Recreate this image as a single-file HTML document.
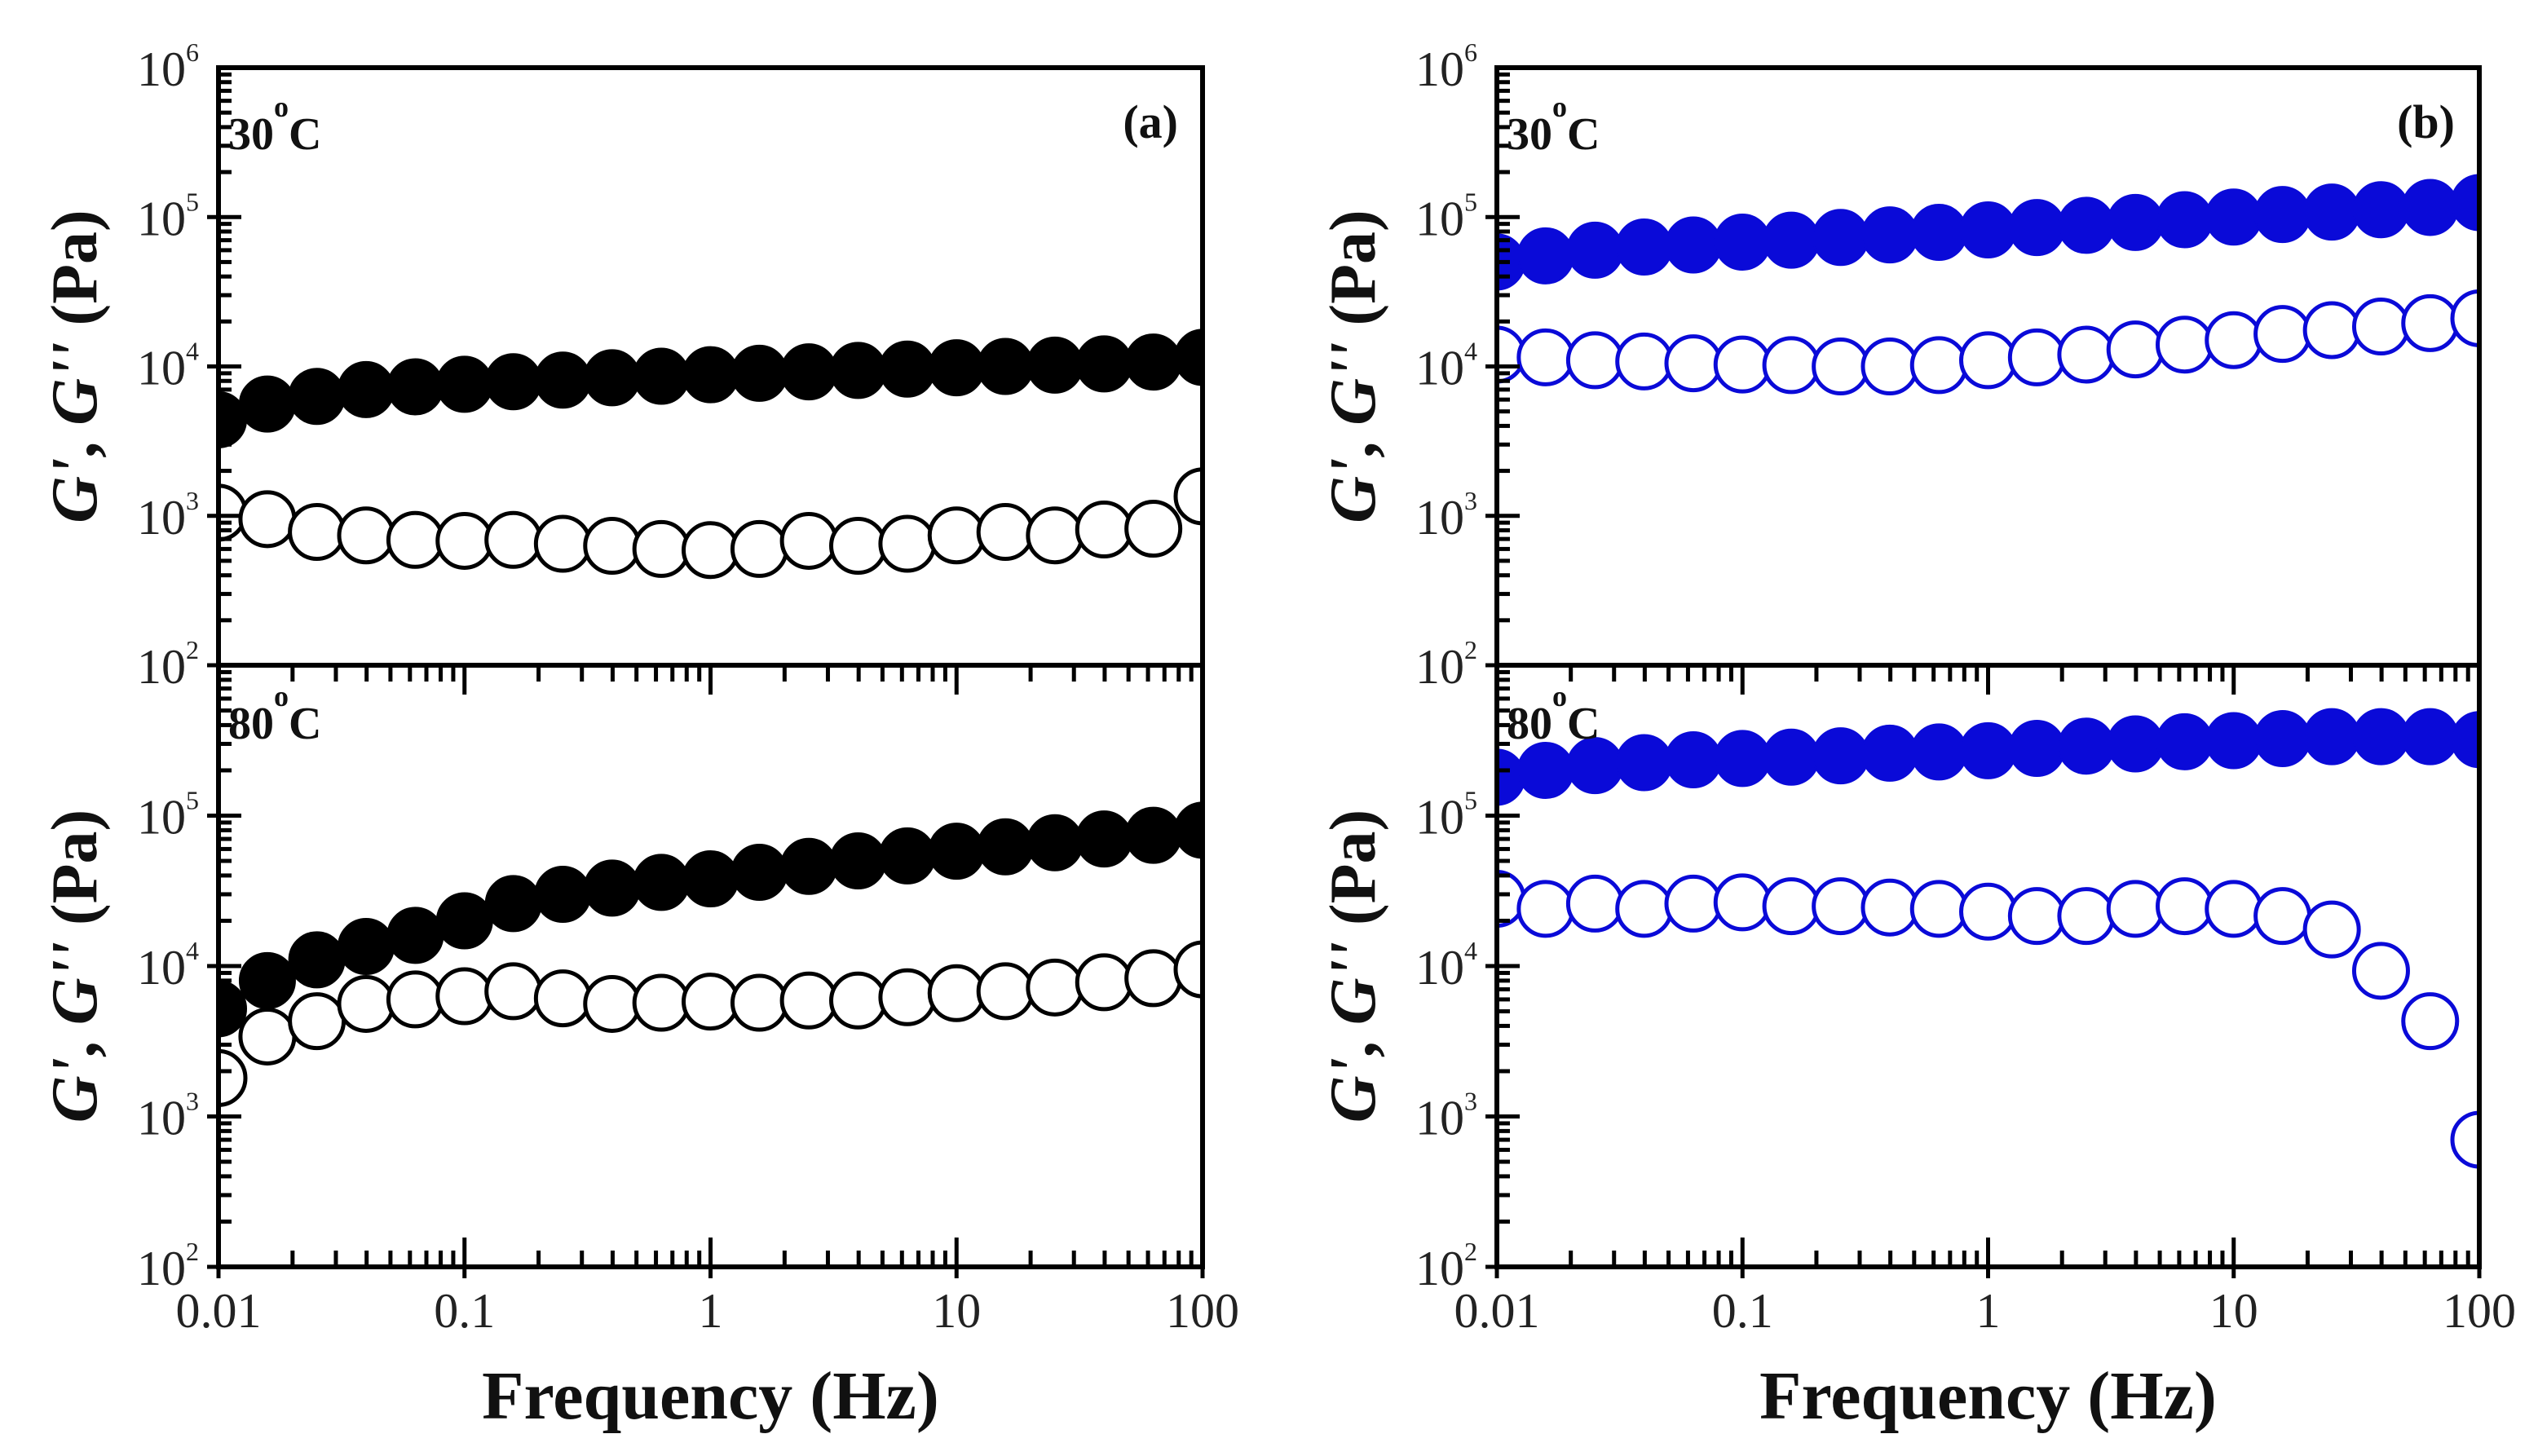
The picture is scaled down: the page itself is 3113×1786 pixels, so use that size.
<!DOCTYPE html>
<html><head><meta charset="utf-8"><style>
html,body{margin:0;padding:0;background:#fff;}
svg{display:block;font-family:"Liberation Serif",serif;}
</style></head><body>
<svg id="chart" width="3113" height="1786" viewBox="0 0 3113 1786" xmlns="http://www.w3.org/2000/svg"></svg>
<script>
// Frequency points (Hz)
const freqs = [0.01,0.0158,0.0251,0.0398,0.0631,0.1,0.158,0.251,0.398,0.631,1,1.58,2.51,3.98,6.31,10,15.8,25.1,39.8,63.1,100];
const xTicks = ["0.01","0.1","1","10","100"];
const aTopGp  = [4400,5600,6300,7000,7300,7600,7900,8100,8400,8600,8800,9000,9200,9400,9600,9800,10000,10200,10400,10700,11500];
const aTopGpp = [1050,950,780,740,690,680,690,650,630,600,590,600,680,630,650,740,780,740,810,820,1350];
const aBotGp  = [5200,8000,11000,13500,16000,20000,26000,30000,33000,36000,38000,42000,46000,50000,54000,58000,62000,66000,70000,74000,80000];
const aBotGpp = [1800,3400,4300,5600,6000,6300,6800,6100,5600,5700,5800,5700,5900,5900,6200,6600,6800,7200,7800,8300,9500];
const bTopGp  = [50000,55000,60000,63000,65000,68000,70000,73000,76000,79000,82000,85000,88000,92000,96000,100000,104000,108000,112000,116000,125000];
const bTopGpp = [12000,11500,11000,10800,10500,10300,10200,10000,10000,10200,11000,11500,12000,13000,14000,15000,16500,17500,18500,19500,21000];
const bBotGp  = [180000,200000,215000,225000,235000,240000,245000,250000,260000,265000,270000,280000,290000,300000,310000,315000,325000,335000,335000,335000,320000];
const bBotGpp = [28000,24000,26000,24000,26000,26500,25000,25000,24500,24000,23000,21500,21500,24000,25000,24000,21500,17500,9300,4300,700];

const NS="http://www.w3.org/2000/svg";
const svg=document.getElementById('chart');
function mk(tag,attrs,parent){const e=document.createElementNS(NS,tag);for(const k in attrs)e.setAttribute(k,attrs[k]);(parent||svg).appendChild(e);return e;}

const Y0=83, YM=816, YB=1554;
function drawPanel(px0,px1,label,color,topGp,topGpp,botGp,botGpp){
  const g=mk('g',{});
  
  
  const xs=f=>px0+(Math.log10(f)+2)/4*(px1-px0);
  const panels=[{t:Y0,b:YM,gp:topGp,gpp:topGpp,temp:'30'},{t:YM,b:YB,gp:botGp,gpp:botGpp,temp:'80'}];
  panels.forEach((p,pi)=>{
    const ys=v=>p.b-(Math.log10(v)-2)/4*(p.b-p.t);
    const cp=mk('clipPath',{id:'c'+label+pi},g);
    mk('rect',{x:px0,y:p.t,width:px1-px0,height:p.b-p.t},cp);
    const sg=mk('g',{'clip-path':'url(#c'+label+pi+')'},g);
    p.gpp.forEach((v,i)=>{
      const c=mk('circle',{cx:xs(freqs[i]),cy:ys(v),r:33,fill:'#fff',stroke:color,'stroke-width':5},sg);
      
      
    });
    p.gp.forEach((v,i)=>{
      const c=mk('circle',{cx:xs(freqs[i]),cy:ys(v),r:34,fill:color,stroke:color,'stroke-width':2},sg);
      
      
    });
    for(let d=2;d<6;d++){
      for(let m=1;m<10;m++){
        const y=ys(m*Math.pow(10,d));
        const len=m===1?28:16;
        mk('line',{x1:px0,x2:px0+len,y1:y,y2:y,stroke:'#000','stroke-width':5},g);
        if(m===1) mk('line',{x1:px0-14,x2:px0,y1:y,y2:y,stroke:'#000','stroke-width':5},g);
      }
    }
    const exps=pi===0?[6,5,4,3,2]:[5,4,3,2];
    exps.forEach(e=>{
      const t=mk('text',{x:px0-24,y:ys(Math.pow(10,e))+22,'text-anchor':'end','font-size':60,fill:'#222'},g);
      
      
      t.textContent='10';
      const s=mk('tspan',{dy:-30,'font-size':32},t); s.textContent=String(e);
    });
    const tl=mk('text',{x:px0+12,y:p.t+(pi===0?100:90),'font-size':56,'font-weight':'bold',fill:'#111'},g);
    
    
    tl.textContent=p.temp;
    const so=mk('tspan',{dy:-40,'font-size':36},tl); so.textContent='o';
    const sc=mk('tspan',{dy:40},tl); sc.textContent='C';
    const tx=px0-150, ty=(p.t+p.b)/2;
    const yt=mk('text',{x:tx,y:ty,transform:'rotate(-90 '+tx+' '+ty+')','text-anchor':'middle','font-size':80,'font-weight':'bold',fill:'#111'},g);
    
    
    const i1=mk('tspan',{'font-style':'italic'},yt); i1.textContent="G'";
    const i2=mk('tspan',{},yt); i2.textContent=", ";
    const i3=mk('tspan',{'font-style':'italic'},yt); i3.textContent="G''";
    const i4=mk('tspan',{},yt); i4.textContent=" (Pa)";
  });
  for(let d=-2;d<2;d++){
    for(let m=1;m<10;m++){
      const x=xs(m*Math.pow(10,d));
      const len=m===1?36:20;
      mk('line',{x1:x,x2:x,y1:YB,y2:YB-len,stroke:'#000','stroke-width':5},g);
      mk('line',{x1:x,x2:x,y1:YM,y2:YM+len,stroke:'#000','stroke-width':5},g);
      if(m===1) mk('line',{x1:x,x2:x,y1:YB,y2:YB+14,stroke:'#000','stroke-width':5},g);
    }
  }
  mk('line',{x1:px1,x2:px1,y1:YB,y2:YB+14,stroke:'#000','stroke-width':5},g);
  xTicks.forEach((t,i)=>{
    const tx=mk('text',{x:xs(Math.pow(10,i-2)),y:YB+74,'text-anchor':'middle','font-size':60,fill:'#222'},g);
    
    
    tx.textContent=t;
  });
  mk('rect',{x:px0,y:Y0,width:px1-px0,height:YB-Y0,fill:'none',stroke:'#000','stroke-width':6},g);
  mk('line',{x1:px0,x2:px1,y1:YM,y2:YM,stroke:'#000','stroke-width':6},g);
  const pl=mk('text',{x:px1-30,y:Y0+86,'text-anchor':'end','font-size':58,'font-weight':'bold',fill:'#111'},g);
  
  
  pl.textContent='('+label+')';
  const xt=mk('text',{x:(px0+px1)/2,y:1740,'text-anchor':'middle','font-size':84,'font-weight':'bold',fill:'#111'},g);
  
  
  xt.textContent='Frequency (Hz)';
}
drawPanel(268,1475,'a','#000',aTopGp,aTopGpp,aBotGp,aBotGpp);
drawPanel(1836,3041,'b','#0a0ad8',bTopGp,bTopGpp,bBotGp,bBotGpp);
</script>
</body></html>
